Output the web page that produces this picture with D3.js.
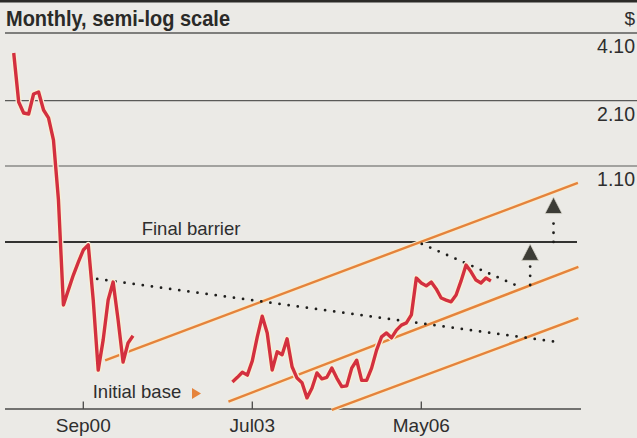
<!DOCTYPE html>
<html><head><meta charset="utf-8">
<script src="https://cdn.jsdelivr.net/npm/d3@7"></script>
<style>
html,body{margin:0;padding:0;background:#ebeae6;}
svg{display:block;}
text{font-family:"Liberation Sans",Arial,sans-serif;fill:#2e2e2e;}
</style></head><body>
<svg id="c" width="637" height="438"></svg>
<script>
// ---- data (month index: 0 = Jan 2000) ----
const title = "Monthly, semi-log scale";
const unit = "$";
const yTicks = [4.10, 2.10, 1.10];
const yTickLabels = ["4.10", "2.10", "1.10"];
const xTicks = [8, 42, 76];
const xTickLabels = ["Sep00", "Jul03", "May06"];

const seg1Start = -6; // Jul99
const seg1 = [3.364,2.072,1.858,1.840,2.242,2.287,1.914,1.769,1.422,0.786,0.278,0.323,0.374,0.425,0.479,0.504,0.292,0.146,0.197,0.292,0.349,0.240,0.158,0.191,0.205];
const seg2Start = 38; // Mar03
const seg2 = [0.130,0.136,0.143,0.139,0.160,0.203,0.249,0.211,0.146,0.175,0.170,0.199,0.151,0.135,0.129,0.111,0.122,0.142,0.134,0.136,0.149,0.135,0.124,0.125,0.149,0.161,0.132,0.132,0.149,0.178,0.203,0.211,0.201,0.217,0.228,0.233,0.252,0.363,0.346,0.336,0.349,0.326,0.298,0.292,0.287,0.307,0.353,0.413,0.386,0.356,0.346,0.363,0.353];

const barrier = 0.519;
// trend channel lines: [month, value] -> [month, value]
const channel = [
  [[12.4, 0.161], [107.5, 0.930]],
  [[37.2, 0.107], [107.6, 0.406]],
  [[58.0, 0.0985], [107.6, 0.244]]
];
// dotted resistance lines
const dotted = [
  [[10.8, 0.360], [103.3, 0.193]],
  [[76.1, 0.509], [95.9, 0.332]],
  [[97.9, 0.339], [97.9, 0.425]],
  [[102.6, 0.519], [102.6, 0.677]]
];
// target triangles: [month, apex value]
const targets = [[97.9, 0.509], [102.6, 0.809]];
const labelFinal = {text: "Final barrier", m: 19.75};
const labelInitial = {text: "Initial base", m: 9.9};

// ---- scales ----
const svg = d3.select("#c");
const x = d3.scaleLinear().domain([8, 76]).range([83.3, 421.3]);
const y = d3.scaleLog().domain([1.10, 4.10]).range([166, 33]);
const axisY = 409;

// header
svg.append("rect").attr("x",0).attr("y",0).attr("width",637).attr("height",2.5).attr("fill","#2b2b28");
svg.append("text").text(title).attr("x",6).attr("y",26)
  .attr("font-size",21.5).attr("font-weight","bold").attr("textLength",224).attr("lengthAdjust","spacingAndGlyphs")
  .style("fill","#2a2a28");
svg.append("text").text(unit).attr("x",635).attr("y",25).attr("text-anchor","end").attr("font-size",19);

// gridlines
yTicks.forEach((t,i)=>{
  svg.append("line").attr("x1",5).attr("x2",637).attr("y1",y(t)).attr("y2",y(t))
    .attr("stroke","#5a5a58").attr("stroke-width",i===0?1.6:1.2);
  svg.append("text").text(yTickLabels[i]).attr("x",635).attr("y",y(t)+20)
    .attr("text-anchor","end").attr("font-size",19.5);
});

// final barrier
svg.append("line").attr("x1",5).attr("x2",577).attr("y1",y(barrier)).attr("y2",y(barrier))
  .attr("stroke","#333331").attr("stroke-width",2);
svg.append("text").text(labelFinal.text).attr("x",x(labelFinal.m)).attr("y",y(barrier)-7).attr("font-size",18.5);

// axis
svg.append("line").attr("x1",5).attr("x2",581).attr("y1",axisY).attr("y2",axisY)
  .attr("stroke","#4a4a48").attr("stroke-width",1.6);
xTicks.forEach((t,i)=>{
  svg.append("line").attr("x1",x(t)).attr("x2",x(t)).attr("y1",axisY).attr("y2",axisY-7.5)
    .attr("stroke","#4a4a48").attr("stroke-width",1.3);
  svg.append("text").text(xTickLabels[i]).attr("x",x(t)).attr("y",432)
    .attr("text-anchor","middle").attr("font-size",19);
});

const line = d3.line().x(d=>x(d[0])).y(d=>y(d[1]));

// channel lines
channel.forEach(c=>{
  svg.append("path").attr("d",line(c)).attr("stroke","#f7ecd0").attr("stroke-width",4.5).attr("fill","none");
  svg.append("path").attr("d",line(c)).attr("stroke","#e5833c").attr("stroke-width",2.4).attr("fill","none");
});

// dotted lines
dotted.forEach(c=>{
  svg.append("path").attr("d",line(c)).attr("stroke","#1e1e1c").attr("stroke-width",2.8)
    .attr("stroke-linecap","round").attr("stroke-dasharray","0 9.2").attr("fill","none");
});

// triangles
targets.forEach(t=>{
  const cx = x(t[0]), ay = y(t[1]);
  svg.append("path").attr("d",`M${cx},${ay} L${cx+8.5},${ay+16.5} L${cx-8.5},${ay+16.5} Z`)
    .attr("fill","#3c3c36").attr("stroke","#d8d6cc").attr("stroke-width",0.8);
});

// price series
[[seg1Start,seg1],[seg2Start,seg2]].forEach(([s,arr])=>{
  const pts = arr.map((v,i)=>[s+i,v]);
  svg.append("path").attr("d",line(pts)).attr("stroke","#f8efd6").attr("stroke-width",6)
    .attr("fill","none").attr("stroke-linejoin","round");
  svg.append("path").attr("d",line(pts)).attr("stroke","#d3303f").attr("stroke-width",3.4)
    .attr("fill","none").attr("stroke-linejoin","round");
});

// initial base label
svg.append("text").text(labelInitial.text).attr("x",x(labelInitial.m)).attr("y",398).attr("font-size",18.5);
svg.append("path").attr("d",`M192,388 L201,393.5 L192,399 Z`).attr("fill","#e5833c");
</script>
</body></html>
